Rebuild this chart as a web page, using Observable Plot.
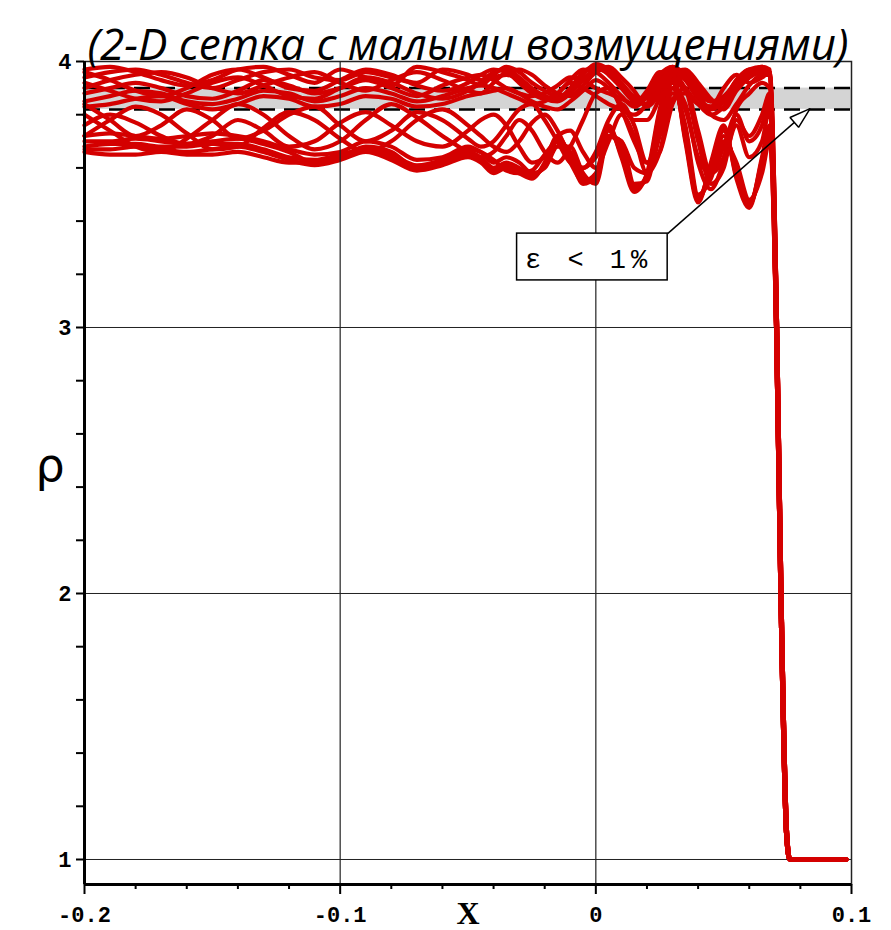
<!DOCTYPE html>
<html><head><meta charset="utf-8">
<script src="https://cdn.jsdelivr.net/npm/d3@7"></script>
<script src="https://cdn.jsdelivr.net/npm/@observablehq/plot@0.6"></script>
<style>body{margin:0;background:#fff}</style>
</head><body><div id="chart"></div>
<script>
const titleText = "(2-D сетка с малыми возмущениями)";
const xLabel = "X";
const yLabel = "ρ";
const xDomain = [-0.2, 0.1];
const yDomain = [0.906, 4];
const xMajor = [-0.2, -0.1, 0, 0.1];
const xMinor = [-0.18,-0.16,-0.14,-0.12,-0.08,-0.06,-0.04,-0.02,0.02,0.04,0.06,0.08];
const yMajor = [1, 2, 3, 4];
const yMinor = [1.2,1.4,1.6,1.8,2.2,2.4,2.6,2.8,3.2,3.4,3.6,3.8];
const gridXs = [-0.1, 0];
const gridYs = [1, 2, 3];
const band = [3.82, 3.90];

const xGrid = [-0.2,-0.19,-0.18,-0.17,-0.16,-0.15,-0.14,-0.13,-0.12,-0.11,-0.1,-0.09,-0.08,-0.07,-0.06,-0.05,
  -0.045,-0.04,-0.035,-0.03,-0.025,-0.02,-0.015,-0.01,-0.005,0,0.005,0.01,0.015,0.02,0.025,0.03,0.035,0.04,0.045,0.05,0.055,0.06,0.065,0.068];

const u1 = [3.97,3.98,3.96,3.93,3.91,3.93,3.97,3.98,3.95,3.92,3.97,3.94,3.91,3.98,3.96,3.93, 3.91,3.95,3.98,3.96,3.92,3.89,3.87,3.89,3.95,3.99,3.97,3.92,3.87,3.86,3.93,3.98,3.95,3.88,3.85,3.87,3.92,3.96,3.98,3.97];
const u2 = [3.94,3.96,3.97,3.95,3.92,3.90,3.93,3.96,3.97,3.94,3.93,3.96,3.94,3.92,3.97,3.95, 3.93,3.96,3.97,3.94,3.90,3.87,3.86,3.90,3.96,3.98,3.95,3.90,3.85,3.84,3.92,3.97,3.93,3.86,3.83,3.86,3.93,3.97,3.97,3.95];
const u3 = [3.90,3.93,3.95,3.96,3.94,3.90,3.88,3.91,3.94,3.96,3.92,3.89,3.93,3.96,3.93,3.89, 3.88,3.92,3.96,3.97,3.95,3.91,3.88,3.87,3.91,3.96,3.98,3.94,3.89,3.83,3.88,3.95,3.97,3.92,3.86,3.82,3.89,3.94,3.97,3.96];
const u4 = [3.88,3.90,3.92,3.90,3.87,3.86,3.89,3.93,3.91,3.88,3.90,3.93,3.90,3.87,3.91,3.94, 3.95,3.93,3.90,3.88,3.87,3.88,3.91,3.94,3.93,3.90,3.88,3.86,3.84,3.89,3.96,3.94,3.89,3.84,3.83,3.90,3.95,3.92,3.94,3.96];
const u5 = [3.85,3.87,3.89,3.88,3.85,3.84,3.86,3.89,3.88,3.85,3.87,3.90,3.88,3.85,3.87,3.90, 3.91,3.90,3.88,3.86,3.84,3.85,3.88,3.92,3.90,3.87,3.84,3.82,3.80,3.84,3.92,3.96,3.90,3.84,3.80,3.83,3.90,3.94,3.96,3.95];
const u6 = [3.92,3.89,3.86,3.85,3.88,3.92,3.94,3.91,3.87,3.86,3.90,3.94,3.92,3.88,3.86,3.89, 3.92,3.94,3.95,3.93,3.89,3.86,3.85,3.88,3.93,3.97,3.96,3.91,3.86,3.84,3.90,3.96,3.96,3.90,3.85,3.85,3.90,3.95,3.97,3.96];
const u7 = [3.83,3.84,3.86,3.87,3.84,3.82,3.84,3.87,3.86,3.83,3.84,3.87,3.86,3.83,3.84,3.87, 3.88,3.89,3.90,3.88,3.85,3.83,3.82,3.85,3.89,3.93,3.90,3.84,3.78,3.78,3.86,3.93,3.94,3.88,3.80,3.78,3.84,3.91,3.95,3.95];
const u8 = [3.96,3.93,3.89,3.87,3.90,3.95,3.97,3.94,3.90,3.89,3.93,3.97,3.95,3.91,3.89,3.92, 3.95,3.97,3.96,3.92,3.88,3.86,3.88,3.93,3.97,3.96,3.92,3.87,3.83,3.87,3.95,3.98,3.94,3.87,3.82,3.85,3.93,3.97,3.98,3.96];
const c1 = [3.80,3.74,3.68,3.66,3.71,3.78,3.84,3.80,3.72,3.67,3.70,3.78,3.84,3.79,3.72,3.66, 3.64,3.66,3.72,3.78,3.74,3.66,3.62,3.68,3.78,3.88,3.90,3.82,3.70,3.62,3.74,3.88,3.82,3.64,3.58,3.68,3.80,3.70,3.76,3.86];
const c2 = [3.72,3.78,3.83,3.80,3.73,3.67,3.68,3.75,3.81,3.78,3.71,3.66,3.70,3.78,3.82,3.76, 3.72,3.68,3.66,3.70,3.77,3.80,3.74,3.64,3.60,3.66,3.78,3.84,3.76,3.62,3.66,3.84,3.90,3.74,3.58,3.64,3.82,3.88,3.92,3.90];
const c3 = [3.76,3.80,3.77,3.72,3.69,3.72,3.78,3.74,3.68,3.70,3.77,3.81,3.76,3.70,3.68,3.74, 3.78,3.80,3.76,3.68,3.62,3.64,3.72,3.74,3.66,3.60,3.70,3.80,3.72,3.58,3.66,3.86,3.88,3.70,3.54,3.60,3.78,3.72,3.80,3.88];
const c4 = [3.84,3.78,3.72,3.76,3.82,3.78,3.71,3.74,3.80,3.83,3.76,3.70,3.74,3.81,3.78,3.71, 3.68,3.70,3.76,3.82,3.84,3.78,3.70,3.62,3.60,3.64,3.72,3.70,3.60,3.58,3.72,3.90,3.84,3.62,3.52,3.62,3.76,3.64,3.70,3.82];
const l1 = [3.70,3.70,3.71,3.70,3.69,3.70,3.71,3.69,3.66,3.62,3.64,3.68,3.66,3.60,3.62,3.66, 3.64,3.60,3.62,3.60,3.57,3.61,3.70,3.66,3.56,3.55,3.74,3.66,3.52,3.57,3.80,3.94,3.72,3.48,3.60,3.74,3.58,3.46,3.62,3.74];
const l2 = [3.67,3.67,3.68,3.67,3.66,3.67,3.68,3.66,3.63,3.61,3.63,3.66,3.63,3.59,3.61,3.64, 3.62,3.58,3.60,3.58,3.56,3.62,3.72,3.64,3.54,3.57,3.76,3.64,3.51,3.58,3.82,3.96,3.70,3.47,3.62,3.76,3.56,3.45,3.64,3.76];
const l3 = [3.66,3.65,3.65,3.66,3.65,3.65,3.66,3.64,3.62,3.62,3.64,3.67,3.65,3.61,3.63,3.67, 3.66,3.63,3.59,3.58,3.59,3.65,3.70,3.62,3.55,3.58,3.72,3.68,3.53,3.56,3.78,3.92,3.74,3.49,3.58,3.72,3.60,3.47,3.60,3.72];
const l4 = [3.72,3.73,3.72,3.71,3.72,3.73,3.72,3.70,3.67,3.65,3.66,3.70,3.68,3.63,3.64,3.68, 3.66,3.62,3.64,3.62,3.58,3.60,3.68,3.68,3.58,3.54,3.72,3.70,3.54,3.55,3.76,3.90,3.76,3.50,3.56,3.70,3.62,3.48,3.58,3.70];
const l5 = [3.68,3.69,3.69,3.68,3.68,3.69,3.69,3.67,3.64,3.63,3.65,3.67,3.64,3.60,3.62,3.65, 3.63,3.59,3.61,3.59,3.57,3.61,3.71,3.65,3.55,3.56,3.75,3.65,3.52,3.57,3.81,3.95,3.71,3.48,3.61,3.75,3.57,3.46,3.63,3.75];

// shock drop (shared by all runs), two slightly offset copies
const tailXa = [0.0705, 0.0722, 0.0744, 0.0757, 0.098];
const tailXb = [0.0709, 0.0726, 0.0748, 0.0760, 0.098];
const tailY  = [3.0, 2.0, 1.1, 1.0, 1.0];

const note = {label: "ε < 1%", x: -0.0277, y: 3.255, x1: -0.0308, x2: 0.0281, y1: 3.177, y2: 3.353,
              fromX: 0.0281, fromY: 3.353, toX: 0.0838, toY: 3.823};

const series = [["u1",u1],["u2",u2],["u3",u3],["u4",u4],["u5",u5],["u6",u6],["u7",u7],["u8",u8],
  ["c1",c1],["c2",c2],["c3",c3],["c4",c4],["l1",l1],["l2",l2],["l3",l3],["l4",l4],["l5",l5]];

const rows = [];
series.forEach(([id, ys], k) => {
  ys.forEach((y, i) => { if (y != null && xGrid[i] != null) rows.push({id, x: xGrid[i], y}); });
  const tx = k % 2 ? tailXb : tailXa;
  tx.forEach((x, j) => rows.push({id, x, y: tailY[j]}));
});

const red = "#d40000";
const monoFont = "Liberation Mono, DejaVu Sans Mono, monospace";

function hollowHead(color) {
  const m = d3.create("svg:marker")
    .attr("viewBox", "-24 -9 26 18")
    .attr("markerWidth", 26).attr("markerHeight", 18)
    .attr("markerUnits", "userSpaceOnUse")
    .attr("orient", "auto")
    .attr("refX", 0).attr("refY", 0);
  m.append("path").attr("d", "M0,0L-21,-6.5L-21,6.5Z")
    .attr("fill", "white").attr("stroke", "black").attr("stroke-width", 1.5);
  return m.node();
}

const chart = Plot.plot({
  width: 891, height: 930,
  marginLeft: 84, marginRight: 40, marginTop: 61, marginBottom: 46,
  x: {domain: xDomain, axis: null},
  y: {domain: yDomain, axis: null},
  style: {background: "white"},
  marks: [
    Plot.rect([band], {x1: () => xDomain[0], x2: () => xDomain[1], y1: d => d[0], y2: d => d[1], fill: "#d4d4d4"}),
    Plot.ruleY(band, {stroke: "black", strokeWidth: 2.5, strokeDasharray: "16,9"}),
    Plot.ruleY(gridYs, {stroke: "#222", strokeWidth: 1}),
    Plot.line(rows, {x: "x", y: "y", z: "id", stroke: red, strokeWidth: 4.2, curve: "monotone-x", strokeLinejoin: "round"}),
    Plot.ruleX(gridXs, {stroke: "#222", strokeWidth: 1.2}),
    Plot.frame({stroke: "#222", strokeWidth: 1.5}),
    Plot.ruleX([xDomain[0]], {stroke: "black", strokeWidth: 3}),
    Plot.ruleY([yDomain[0]], {stroke: "black", strokeWidth: 3}),
    Plot.axisX(xMajor, {anchor: "bottom", tickSize: 10, tickPadding: 12, strokeWidth: 2, label: null,
      tickFormat: d => String(d), fontSize: 22, fontWeight: "bold", fontFamily: monoFont, fill: "black"}),
    Plot.axisX(xMinor, {anchor: "bottom", tickSize: 5, strokeWidth: 2, label: null, fill: "none"}),
    Plot.axisY(yMajor, {anchor: "left", tickSize: 8, tickPadding: 5, strokeWidth: 2, label: null,
      tickFormat: d => String(d), fontSize: 22, fontWeight: "bold", fontFamily: monoFont, fill: "black"}),
    Plot.axisY(yMinor, {anchor: "left", tickSize: 8, strokeWidth: 2, label: null, fill: "none"}),
    Plot.text([titleText], {text: d => d, frameAnchor: "top", dy: -33, fontSize: 44, fontStyle: "italic",
      fontFamily: "Open Sans, sans-serif", fill: "black"}),
    Plot.text([yLabel], {text: d => d, frameAnchor: "left", y: () => 2.48, dx: -49, fontSize: 46,
      fontFamily: "DejaVu Sans, sans-serif", fill: "black"}),
    Plot.text([xLabel], {text: d => d, frameAnchor: "bottom", lineAnchor: "top", dy: 17, fontSize: 32,
      fontWeight: "bold", fontFamily: "Liberation Serif, serif", fill: "black"}),
    Plot.rect([note], {x1: "x1", x2: "x2", y1: "y1", y2: "y2", fill: "white", stroke: "black", strokeWidth: 1.5}),
    Plot.text([note], {x: "x", y: "y", text: "label", textAnchor: "start", fontSize: 27,
      fontFamily: monoFont, fill: "black"}),
    Plot.link([note], {x1: "fromX", y1: "fromY", x2: "toX", y2: "toY", stroke: "black", strokeWidth: 1.5,
      markerEnd: hollowHead})
  ]
});
d3.select(chart).selectAll("text").filter(function() { return this.textContent === note.label; })
  .attr("letter-spacing", 5);
document.getElementById("chart").appendChild(chart);
</script>
</body></html>
